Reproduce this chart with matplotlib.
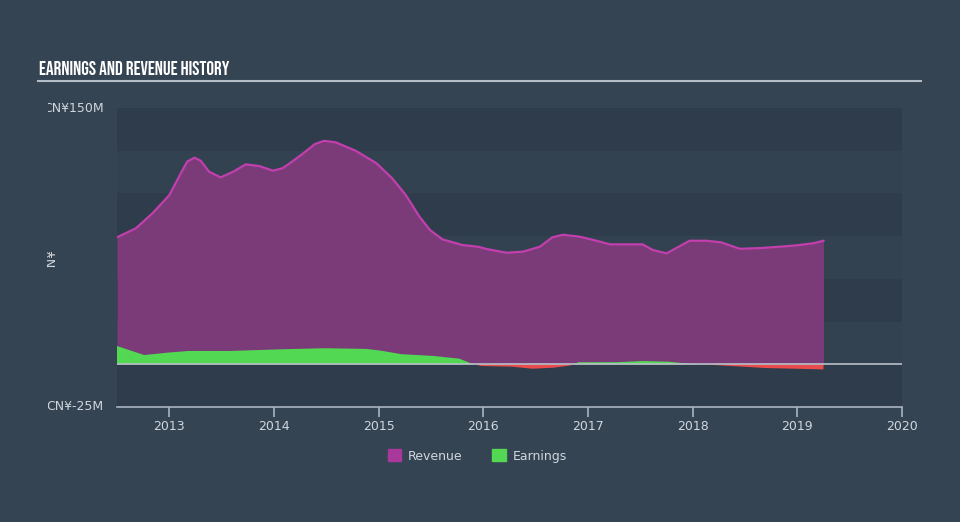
import numpy as np
import matplotlib.pyplot as plt
from matplotlib.patches import Patch
from matplotlib.transforms import Bbox

# revenue history (CN¥ millions)
rev_t = [2012.50, 2012.68, 2012.84, 2013.00, 2013.11, 2013.17, 2013.24, 2013.30, 2013.38,
         2013.49, 2013.61, 2013.73, 2013.86, 2013.99, 2014.08, 2014.15, 2014.27, 2014.39,
         2014.48, 2014.59, 2014.78, 2014.98, 2015.13, 2015.26, 2015.39, 2015.49, 2015.61,
         2015.80, 2015.95, 2016.03, 2016.22, 2016.38, 2016.54, 2016.66, 2016.76, 2016.92,
         2017.08, 2017.21, 2017.40, 2017.52, 2017.62, 2017.75, 2017.84, 2017.97, 2018.13,
         2018.27, 2018.45, 2018.64, 2018.83, 2018.99, 2019.15, 2019.25]
rev_v = [74.3, 79.6, 88.4, 99.0, 111.8, 118.6, 120.9, 119.1, 112.7,
         109.4, 112.7, 117.0, 116.0, 113.3, 114.7, 117.6, 123.0, 128.9,
         130.8, 129.9, 125.0, 117.6, 108.8, 99.0, 86.4, 78.6, 73.1,
         69.8, 68.8, 67.5, 65.3, 65.9, 68.8, 74.3, 75.8, 74.7,
         72.3, 70.2, 70.2, 70.2, 66.9, 64.9, 67.9, 72.3, 72.3,
         71.4, 67.6, 68.0, 68.8, 69.6, 70.8, 72.3]

# earnings history (CN¥ millions)
earn_t = [2012.50, 2012.76, 2012.98, 2013.18, 2013.58, 2014.08, 2014.48, 2014.88, 2015.02,
          2015.22, 2015.52, 2015.77, 2015.88, 2015.98, 2016.27, 2016.47, 2016.67, 2016.82,
          2016.91, 2017.27, 2017.52, 2017.77, 2017.92, 2018.31, 2018.70, 2019.25]
earn_v = [10.7, 5.4, 6.8, 7.8, 7.8, 8.8, 9.4, 9.0, 8.0,
          5.9, 4.9, 3.3, 0.6, -1.0, -1.4, -2.6, -2.0, -0.8,
          1.2, 1.2, 1.9, 1.5, 0.6, -0.8, -2.2, -3.0]

years = [2013, 2014, 2015, 2016, 2017, 2018, 2019, 2020]

bg = '#354453'
fig = plt.figure(figsize=(9.6, 5.22), dpi=100)
fig.patch.set_facecolor(bg)
ax = fig.add_axes([117/960, 1-407/522, 785/960, 299/522])
ax.set_facecolor('#334251')

# horizontal bands
for lo in [125, 75, 25, -25]:
    ax.axhspan(lo, lo+25, color='#2e3c4b', lw=0, zorder=0)

rt = np.array(rev_t)
rv = np.array(rev_v)
ax.fill_between(rt, 0, rv, color='#7b3a78', lw=0, zorder=1)
ax.plot(rt, rv, color='#c23fae', lw=1.6, zorder=2, solid_joinstyle='round')

et = np.array(earn_t)
ev = np.array(earn_v)
ax.fill_between(et, 0, ev, where=ev >= 0, interpolate=True, color='#52d853', lw=0, zorder=3)
ax.fill_between(et, 0, ev, where=ev <= 0, interpolate=True, color='#e84c4c', lw=0, zorder=3)

ax.axhline(0, color='#b8c0c8', lw=1.2, zorder=4)

ax.set_xlim(2012.5, 2020)
ax.set_ylim(-25, 150)
ax.set_xticks(years)
ax.set_xticklabels([str(y) for y in years])
ax.set_yticks([])
for s in ['top', 'right', 'left']:
    ax.spines[s].set_visible(False)
ax.spines['bottom'].set_color('#aab4c0')
ax.spines['bottom'].set_linewidth(1.2)
ax.tick_params(axis='x', colors='#aab4c0', length=7, width=1.2, labelsize=9,
               labelcolor='#d0d6dc', pad=2)

# y labels, cut at the left like the original
clip = Bbox([[48, 0], [960, 522]])
for y, lab in [(150, 'CN¥150M'), (-25, 'CN¥-25M')]:
    t = ax.text(-0.017, (y + 25) / 175, lab, transform=ax.transAxes, ha='right', va='center',
                color='#d0d6dc', fontsize=9)
    t.set_clip_box(clip)
    t.set_clip_on(True)
t = fig.text(52/960, 1-262/522, 'CN¥', rotation=90, ha='center', va='center',
             color='#d0d6dc', fontsize=9)
t.set_clip_box(Bbox([[47, 254], [960, 270]]))
t.set_clip_on(True)

title = fig.text(39/960, 1-75/522, 'EARNINGS AND REVENUE HISTORY', fontsize=14,
                 fontweight='bold', color='white', va='baseline',
                 family=['Bebas Neue', 'Oswald', 'Barlow Condensed', 'DejaVu Sans'])
# fit the title to the original width
r = fig.canvas.get_renderer()
w = title.get_window_extent(renderer=r).width
title.set_fontsize(14 * 191 / w)
fig.add_artist(plt.Line2D([38/960, 921/960], [1-81/522, 1-81/522], color='#b4bcc6', lw=1.5))

handles = [Patch(color='#a8399a', label='Revenue'), Patch(color='#52d853', label='Earnings')]
leg = fig.legend(handles=handles, loc='center', bbox_to_anchor=(0.497, 1-456/522), ncol=2,
                 frameon=False, fontsize=9, handlelength=1.1, handleheight=1.1,
                 columnspacing=2.4, handletextpad=0.5)
for txt in leg.get_texts():
    txt.set_color('#d0d6dc')

fig.savefig('out.png', dpi=100, facecolor=bg)
